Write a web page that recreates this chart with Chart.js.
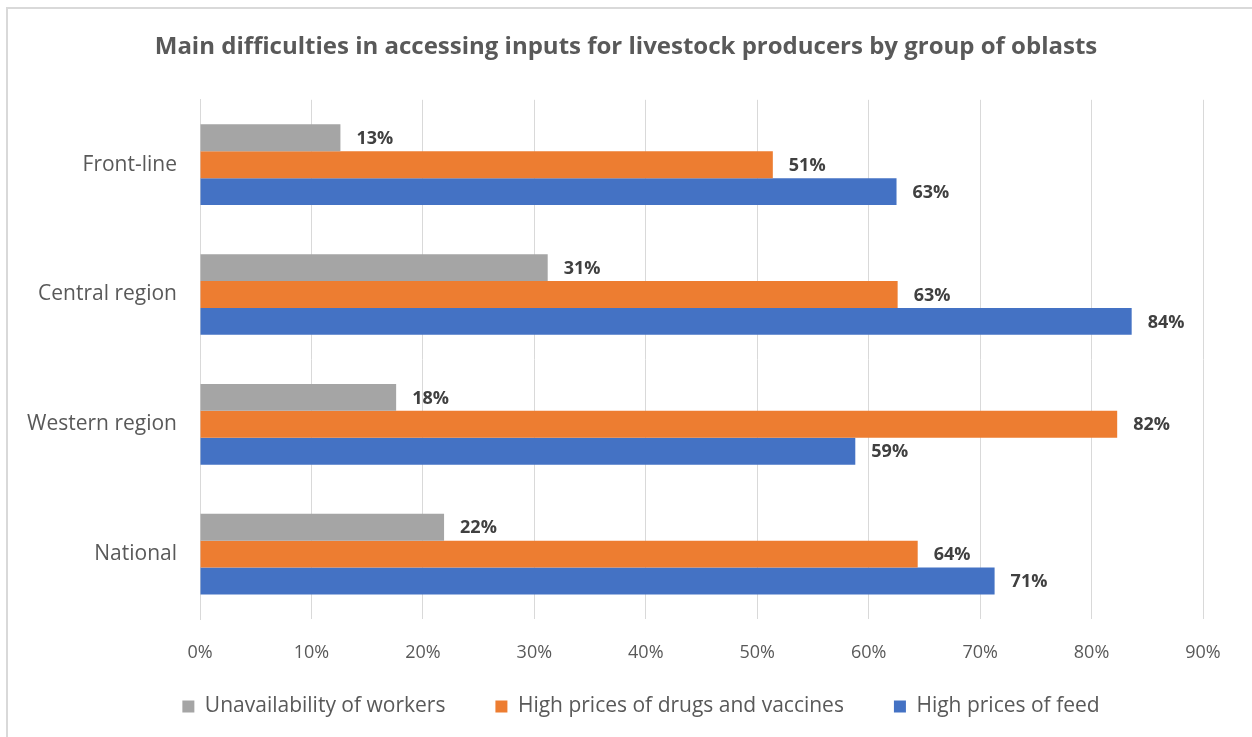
<!DOCTYPE html>
<html lang="en">
<head>
  <meta charset="UTF-8">
  <title>Main difficulties in accessing inputs for livestock producers</title>
  <script src="https://cdn.jsdelivr.net/npm/chart.js"></script>
  <style>
    body {
      margin: 0;
      background: #ffffff;
    }
    #wrap {
      position: relative;
      width: 1252px;
      height: 737px;
    }
  </style>
</head>
<body>
  <div id="wrap">
    <canvas id="chart" width="1252" height="737"></canvas>
  </div>

  <script>
    // Data
    const regions = ['Front-line', 'Central region', 'Western region', 'National'];
    const workers = [12.6, 31.2, 17.6, 21.9];
    const drugs = [51.4, 62.6, 82.3, 64.4];
    const feed = [62.5, 83.6, 58.8, 71.3];
    const seriesNames = ['Unavailability of workers', 'High prices of drugs and vaccines', 'High prices of feed'];

    const FONT = "'Open Sans', 'Noto Sans', sans-serif";
    const TEXT = '#595959';

    // light frame line on the top and left edge
    const framePlugin = {
      id: 'frame',
      beforeDraw(chart) {
        const ctx = chart.ctx;
        ctx.save();
        ctx.strokeStyle = '#d9d9d9';
        ctx.lineWidth = 2;
        ctx.beginPath();
        ctx.moveTo(7, 740);
        ctx.lineTo(7, 8);
        ctx.lineTo(1260, 8);
        ctx.stroke();
        ctx.restore();
      }
    };

    // the x axis is squeezed so the legend sits close; let its labels draw below it
    const layoutTweak = {
      id: 'layoutTweak',
      afterLayout(chart) {
        chart.scales.x.bottom = 680;
        chart.legend.left += 30;
      }
    };

    // value labels drawn right of each bar
    const valueLabels = {
      id: 'valueLabels',
      afterDatasetsDraw(chart) {
        const ctx = chart.ctx;
        ctx.save();
        ctx.font = "bold 18px " + FONT;
        ctx.fillStyle = '#404040';
        ctx.textAlign = 'left';
        ctx.textBaseline = 'middle';
        chart.data.datasets.forEach((ds, i) => {
          chart.getDatasetMeta(i).data.forEach((bar, j) => {
            ctx.fillText(Math.round(ds.data[j]) + '%', bar.x + 16, bar.y + 1);
          });
        });
        ctx.restore();
      }
    };

    new Chart(document.getElementById('chart'), {
      type: 'bar',
      data: {
        labels: regions,
        datasets: [
          { label: seriesNames[0], data: workers, backgroundColor: '#A5A5A5' },
          { label: seriesNames[1], data: drugs, backgroundColor: '#ED7D31' },
          { label: seriesNames[2], data: feed, backgroundColor: '#4472C4' }
        ]
      },
      options: {
        indexAxis: 'y',
        responsive: false,
        animation: false,
        datasets: {
          bar: { barPercentage: 1, categoryPercentage: 0.622 }
        },
        layout: { padding: { left: 0, right: 0, top: 0, bottom: 10 } },
        scales: {
          x: {
            min: 0,
            max: 90,
            afterFit(scale) { scale.height = 27; },
            ticks: {
              stepSize: 10,
              callback: v => v + '%',
              color: TEXT,
              font: { family: FONT, size: 18 },
              padding: 23
            },
            grid: { color: '#d9d9d9', drawTicks: false },
            border: { display: false }
          },
          y: {
            afterFit(scale) { scale.width = 200; },
            ticks: {
              color: TEXT,
              font: { family: FONT, size: 21 },
              padding: 23
            },
            grid: { display: false, drawTicks: false },
            border: { color: '#d9d9d9' }
          },
          // empty right-hand axis, only to keep space right of the plot
          yRight: {
            type: 'linear',
            position: 'right',
            afterFit(scale) { scale.width = 49; },
            ticks: { display: false },
            grid: { display: false, drawTicks: false },
            border: { display: false }
          }
        },
        plugins: {
          title: {
            display: true,
            text: 'Main difficulties in accessing inputs for livestock producers by group of oblasts',
            color: TEXT,
            font: { family: FONT, size: 24, weight: 'bold' },
            padding: { top: 33, bottom: 38 }
          },
          legend: {
            position: 'bottom',
            labels: {
              color: TEXT,
              font: { family: FONT, size: 21 },
              boxWidth: 12,
              boxHeight: 12,
              padding: 50
            }
          },
          tooltip: { enabled: false }
        }
      },
      plugins: [framePlugin, layoutTweak, valueLabels]
    });
  </script>
</body>
</html>
